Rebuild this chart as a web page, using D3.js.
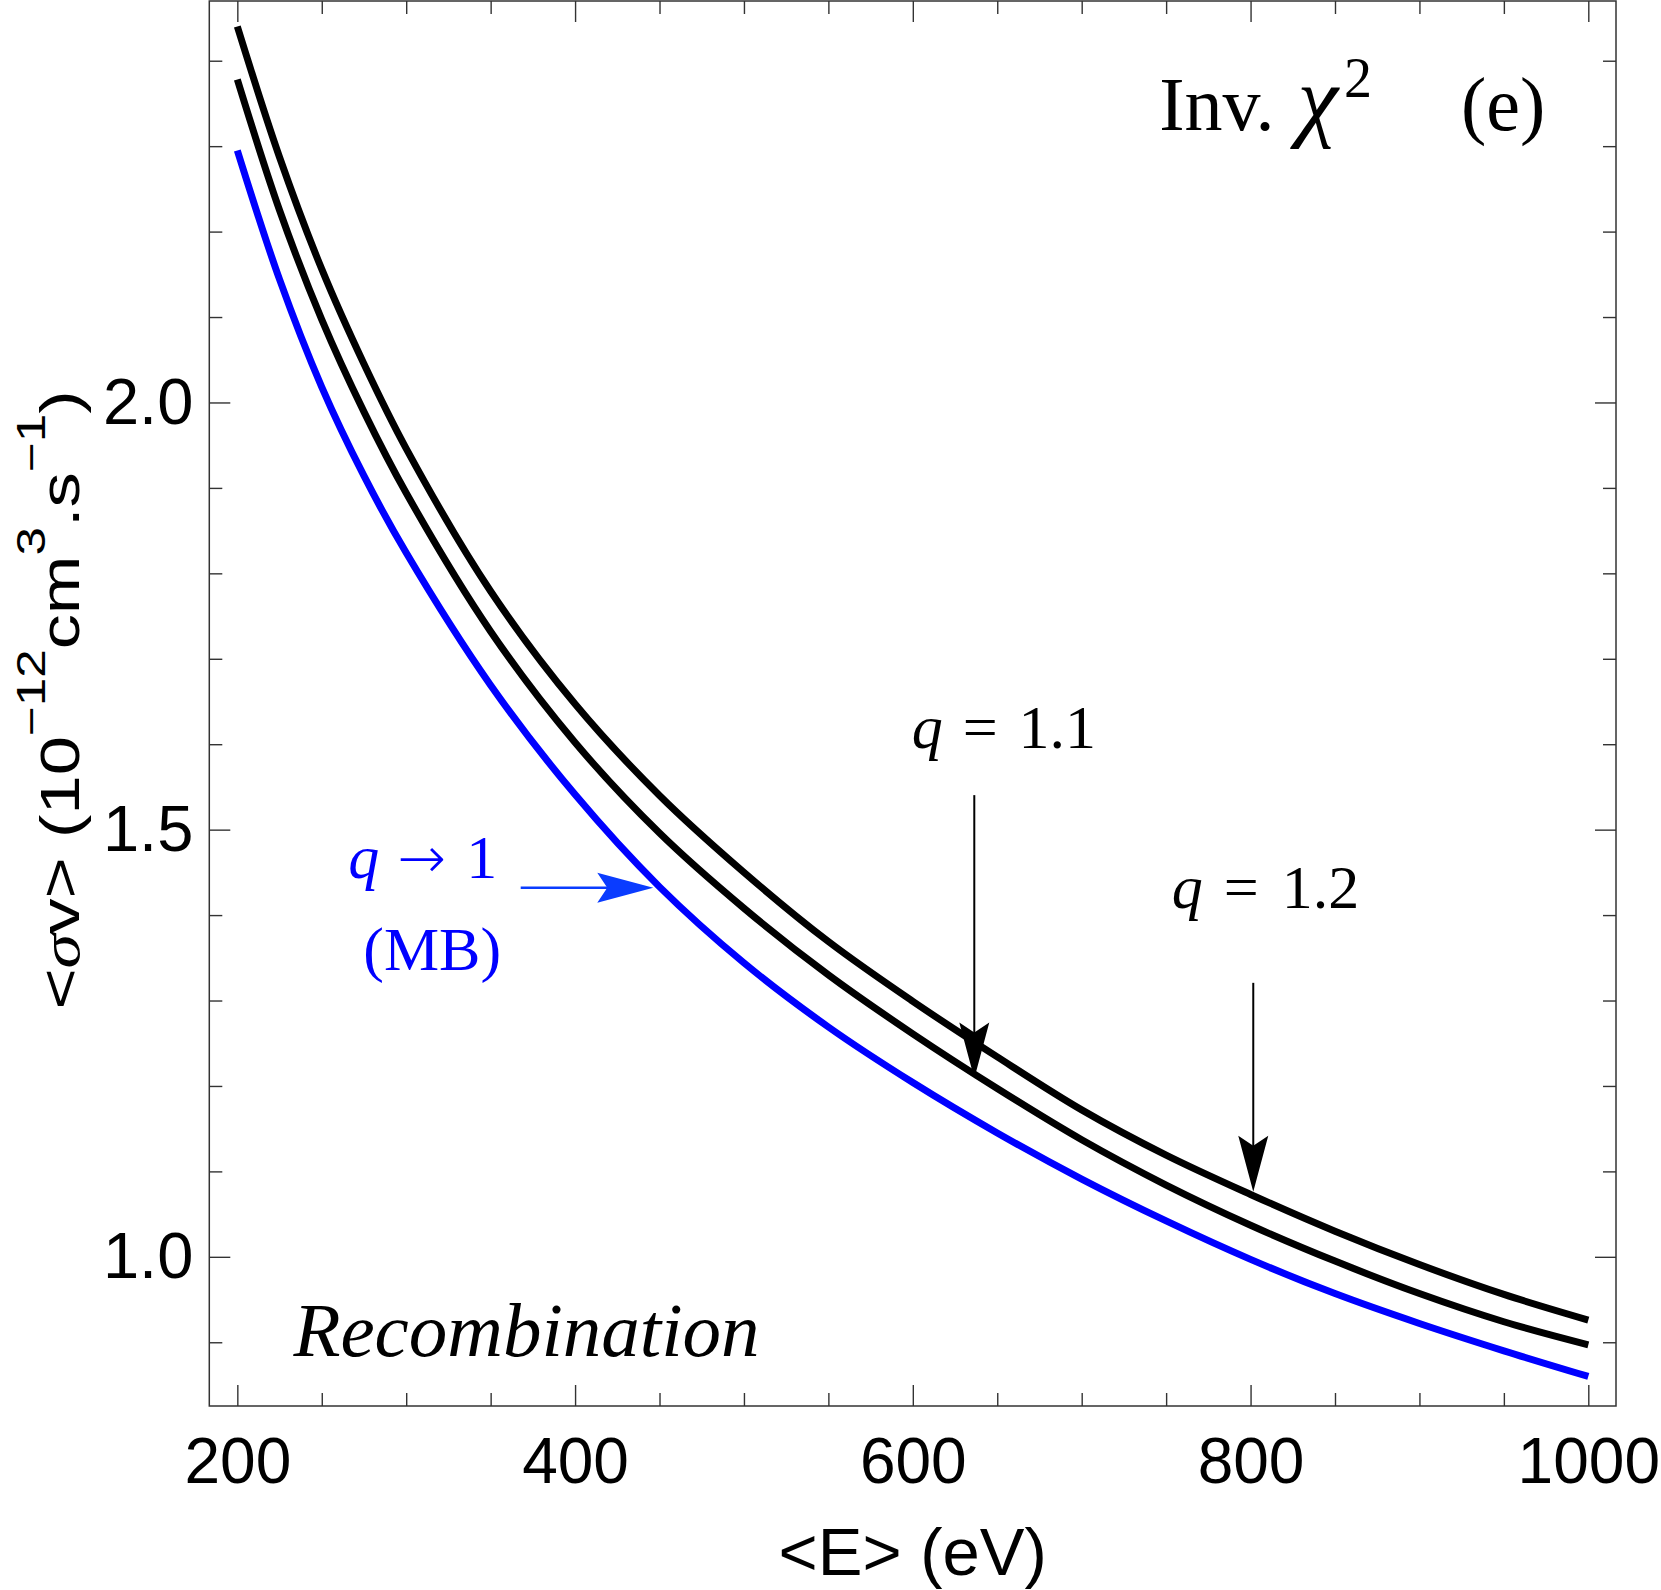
<!DOCTYPE html>
<html><head><meta charset="utf-8">
<script src="https://cdn.jsdelivr.net/npm/d3@7"></script>
<style>body{margin:0;background:#fff} svg{display:block}</style>
</head><body>
<svg id="chart" width="1661" height="1590"></svg>
<script>
// ---- data ----
const energy   = [200,225,250,275,300,350,400,450,500,550,600,650,700,750,800,850,900,950,1000];
const rateMB   = [2.295,2.144,2.018,1.914,1.824,1.669,1.541,1.433,1.344,1.269,1.204,1.145,1.091,1.042,0.997,0.957,0.922,0.890,0.860];
const rateQ11  = [2.378,2.225,2.097,1.989,1.894,1.732,1.602,1.496,1.408,1.330,1.261,1.197,1.137,1.084,1.037,0.995,0.957,0.924,0.897];
const rateQ12  = [2.440,2.287,2.156,2.045,1.946,1.779,1.647,1.540,1.450,1.369,1.299,1.234,1.172,1.119,1.073,1.030,0.991,0.956,0.926];
const xMajorTicks = [200,400,600,800,1000];
const xMinorTicks = [250,300,350,450,500,550,650,700,750,850,900,950];
const xTickLabels = ["200","400","600","800","1000"];
const yMajorTicks = [1.0,1.5,2.0];
const yMinorTicks = [0.9,1.1,1.2,1.3,1.4,1.6,1.7,1.8,1.9,2.1,2.2,2.3,2.4];
const yTickLabels = ["1.0","1.5","2.0"];

const sans = "'Liberation Sans', Arial, Helvetica, sans-serif";
const serif = "'Liberation Serif', 'Times New Roman', Times, serif";

const svg = d3.select('#chart');
const x = d3.scaleLinear().domain([183.4, 1016.4]).range([209.3, 1616]);
const y = d3.scaleLinear().domain([0.8254, 2.4699]).range([1406, 1]);
const L = x.range()[0], R = x.range()[1], T = y.range()[1], B = y.range()[0];

// ---- ticks (inward, all four sides) ----
function ticks(gen, tx, ty, vals, size) {
  const g = svg.append('g').attr('transform', `translate(${tx},${ty})`)
    .call(gen.tickValues(vals).tickSizeInner(-size).tickSizeOuter(0).tickFormat(''));
  g.select('.domain').remove();
  g.selectAll('line').attr('stroke', '#333').attr('stroke-width', 1.4);
}
ticks(d3.axisBottom(x), 0, B, xMajorTicks, 21);
ticks(d3.axisBottom(x), 0, B, xMinorTicks, 13);
ticks(d3.axisTop(x), 0, T, xMajorTicks, 21);
ticks(d3.axisTop(x), 0, T, xMinorTicks, 13);
ticks(d3.axisLeft(y), L, 0, yMajorTicks, 21);
ticks(d3.axisLeft(y), L, 0, yMinorTicks, 13);
ticks(d3.axisRight(y), R, 0, yMajorTicks, 21);
ticks(d3.axisRight(y), R, 0, yMinorTicks, 13);

// tick labels
const xl = svg.append('g').attr('transform', `translate(0,${B})`)
  .call(d3.axisBottom(x).tickValues(xMajorTicks).tickSize(0).tickPadding(32)
    .tickFormat((d, i) => xTickLabels[i]));
xl.select('.domain').remove();
xl.selectAll('text').attr('font-family', sans).attr('font-size', 64).attr('fill', '#000');

const yla = svg.append('g').attr('transform', `translate(${L},0)`)
  .call(d3.axisLeft(y).tickValues(yMajorTicks).tickSize(0).tickPadding(16)
    .tickFormat((d, i) => yTickLabels[i]));
yla.select('.domain').remove();
yla.selectAll('text').attr('font-family', sans).attr('font-size', 65).attr('fill', '#000');

// frame
svg.append('rect').attr('x', L).attr('y', T).attr('width', R - L).attr('height', B - T)
  .attr('fill', 'none').attr('stroke', '#333').attr('stroke-width', 1.5);

// ---- curves ----
const line = d3.line().x((d, i) => x(energy[i])).y(d => y(d)).curve(d3.curveCatmullRom.alpha(0.5));
const series = [
  {vals: rateQ12, color: '#000000'},
  {vals: rateQ11, color: '#000000'},
  {vals: rateMB,  color: '#0000ff'}
];
svg.append('g').selectAll('path').data(series).join('path')
  .attr('d', d => line(d.vals)).attr('fill', 'none')
  .attr('stroke', d => d.color).attr('stroke-width', 7)
  .attr('stroke-linecap', 'butt').attr('stroke-linejoin', 'round');

// ---- annotation arrows (data coordinates) ----
const arrows = [
  {e0: 636.4, v0: 1.5404, e1: 636.4, v1: 1.2088, color: '#000', w: 2},
  {e0: 801.6, v0: 1.3207, e1: 801.6, v1: 1.0761, color: '#000', w: 2},
  {e0: 367.8, v0: 1.4320, e1: 446.3, v1: 1.4320, color: '#0a3cff', w: 2.5}
];
arrows.forEach(a => {
  const x0 = x(a.e0), y0 = y(a.v0), x1 = x(a.e1), y1 = y(a.v1);
  const ang = Math.atan2(y1 - y0, x1 - x0) * 180 / Math.PI;
  const len = Math.hypot(x1 - x0, y1 - y0);
  const g = svg.append('g').attr('transform', `translate(${x0},${y0}) rotate(${ang})`);
  g.append('line').attr('x1', 0).attr('y1', 0).attr('x2', len - 45).attr('y2', 0)
    .attr('stroke', a.color).attr('stroke-width', a.w);
  g.append('path')
    .attr('d', `M${len},0 L${len - 56},-15 L${len - 46},0 L${len - 56},15 Z`)
    .attr('fill', a.color);
});

// ---- annotation texts ----
function place(e, v) { return `translate(${x(e)},${y(v)})`; }

// q = 1.1
let t = svg.append('text').attr('transform', place(599.3, 1.5951))
  .attr('font-family', serif).attr('font-size', 62).attr('fill', '#000');
t.append('tspan').attr('font-style', 'italic').text('q');
t.append('tspan').attr('dx', 20).text('=');
t.append('tspan').attr('dx', 21).text('1.1');

// q = 1.2
t = svg.append('text').attr('transform', place(753.3, 1.4078))
  .attr('font-family', serif).attr('font-size', 62).attr('fill', '#000');
t.append('tspan').attr('font-style', 'italic').text('q');
t.append('tspan').attr('dx', 21).text('=');
t.append('tspan').attr('dx', 23).text('1.2');

// q -> 1 (MB)
t = svg.append('text').attr('transform', place(265.7, 1.4429))
  .attr('font-family', serif).attr('font-size', 62).attr('fill', '#0000ff');
t.append('tspan').attr('x', 0).attr('font-style', 'italic').text('q');
t.append('tspan').attr('x', 49).attr('font-family', "'DejaVu Sans', sans-serif")
  .attr('font-weight', 200).attr('font-size', 58).text('\u2192');
t.append('tspan').attr('x', 118).text('1');
svg.append('text').attr('transform', place(274.6, 1.3356))
  .attr('font-family', serif).attr('font-size', 62).attr('fill', '#0000ff').text('(MB)');

// Recombination
svg.append('text').attr('transform', place(233.2, 0.8838))
  .attr('font-family', serif).attr('font-size', 77).attr('font-style', 'italic')
  .attr('fill', '#000').text('Recombination');

// Inv. chi^2   (e)
t = svg.append('text').attr('transform', place(745.9, 2.3188))
  .attr('font-family', serif).attr('font-size', 76).attr('fill', '#000');
t.append('tspan').text('Inv. ');
t.append('tspan').attr('font-style', 'italic').attr('font-size', 92).attr('dx', 4).text('\u03C7');
t.append('tspan').attr('font-size', 56).attr('dx', 6).attr('dy', -33).text('2');
svg.append('text').attr('transform', place(924.6, 2.3188))
  .attr('font-family', serif).attr('font-size', 76).attr('fill', '#000').text('(e)');

// ---- axis titles ----
svg.append('text').attr('x', (L + R) / 2).attr('y', 1575).attr('text-anchor', 'middle')
  .attr('font-family', sans).attr('font-size', 67).attr('fill', '#000').text('<E> (eV)');

const yl = svg.append('text').attr('transform', 'translate(79,700) rotate(-90) scale(1.28,1)')
  .attr('text-anchor', 'middle').attr('font-family', sans).attr('font-size', 55).attr('fill', '#000');
yl.append('tspan').text('<');
yl.append('tspan').attr('font-family', serif).attr('font-style', 'italic').text('\u03C3');
yl.append('tspan').text('v> (10');
yl.append('tspan').attr('font-size', 40).attr('dy', -34).text('\u221212');
yl.append('tspan').attr('dy', 34).text('cm');
yl.append('tspan').attr('font-size', 40).attr('dy', -34).text('3');
yl.append('tspan').attr('dy', 34).text('.s');
yl.append('tspan').attr('font-size', 40).attr('dy', -34).text('\u22121');
yl.append('tspan').attr('dy', 34).text(')');
</script>
</body></html>
